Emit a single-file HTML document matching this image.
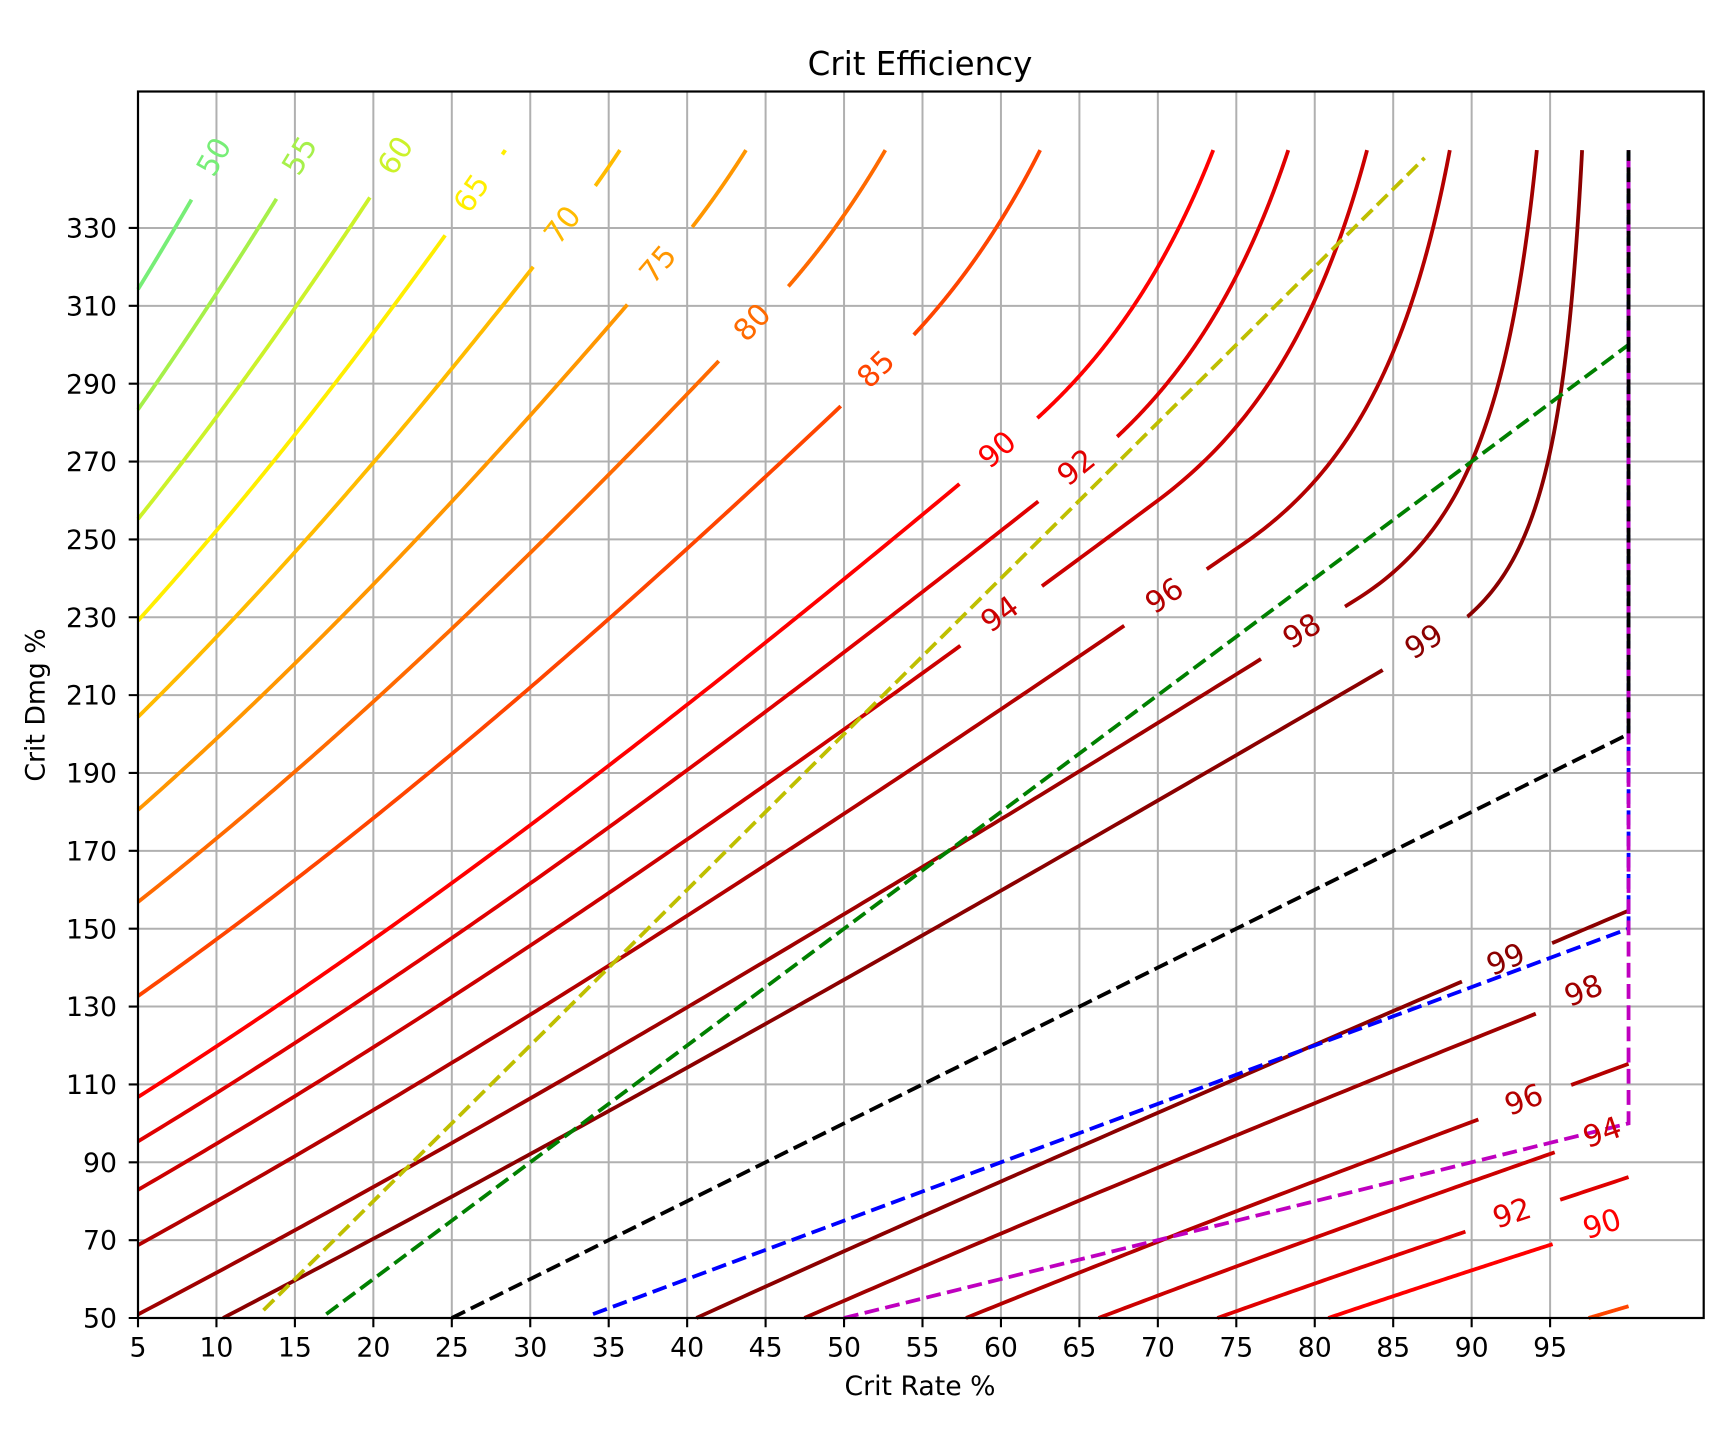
<!DOCTYPE html>
<html><head><meta charset="utf-8"><style>
html,body{margin:0;padding:0;background:#fff;overflow:hidden}
svg{display:block}
text{font-family:"DejaVu Sans","Liberation Sans",sans-serif}
</style></head><body>
<svg width="1734" height="1437" viewBox="0 0 1734 1437" xmlns="http://www.w3.org/2000/svg">
<rect width="1734" height="1437" fill="#fff"/>
<defs>
<mask id="lm" maskUnits="userSpaceOnUse" x="0" y="0" width="1734" height="1437">
<rect width="1734" height="1437" fill="#fff"/>
<g fill="#000">
<rect x="-48" y="-10" width="96" height="20" transform="translate(213.5,157) rotate(-60.4)"/>
<rect x="-49" y="-10" width="98" height="20" transform="translate(299.2,155.3) rotate(-58.7)"/>
<rect x="-49" y="-10" width="98" height="20" transform="translate(395,155.3) rotate(-57)"/>
<rect x="-49.5" y="-10" width="99" height="20" transform="translate(472.5,194) rotate(-55.2)"/>
<rect x="-51" y="-10" width="102" height="20" transform="translate(563.4,225.7) rotate(-51.9)"/>
<rect x="-50.5" y="-10" width="101" height="20" transform="translate(658.8,265) rotate(-49.5)"/>
<rect x="-51" y="-10" width="102" height="20" transform="translate(753,323.2) rotate(-46.4)"/>
<rect x="-51" y="-10" width="102" height="20" transform="translate(876.7,369.9) rotate(-44.4)"/>
<rect x="-51" y="-10" width="102" height="20" transform="translate(997.9,450.4) rotate(-40.9)"/>
<rect x="-51" y="-10" width="102" height="20" transform="translate(1077,468.2) rotate(-39.3)"/>
<rect x="-50.5" y="-10" width="101" height="20" transform="translate(1000.5,615) rotate(-36.1)"/>
<rect x="-50" y="-10" width="100" height="20" transform="translate(1165,596.7) rotate(-34.2)"/>
<rect x="-49.5" y="-10" width="99" height="20" transform="translate(1302.5,632) rotate(-31.7)"/>
<rect x="-50" y="-10" width="100" height="20" transform="translate(1424.5,642.5) rotate(-31.8)"/>
<rect x="-49" y="-10" width="98" height="20" transform="translate(1506.2,960.5) rotate(-23.2)"/>
<rect x="-52" y="-10" width="104" height="20" transform="translate(1583.5,993) rotate(-21.9)"/>
<rect x="-49.5" y="-10" width="99" height="20" transform="translate(1524.2,1100.8) rotate(-20.6)"/>
<rect x="-45" y="-10" width="90" height="20" transform="translate(1597,1137) rotate(-19.3)"/>
<rect x="-50" y="-10" width="100" height="20" transform="translate(1512.3,1214.2) rotate(-18.4)"/>
<rect x="-45" y="-10" width="90" height="20" transform="translate(1595,1229) rotate(-17.8)"/>
</g>
</mask>
</defs>

<!-- grid -->
<g stroke="#b0b0b0" stroke-width="2" fill="none">
<path d="M216.45,91.5V1318M294.9,91.5V1318M373.35,91.5V1318M451.8,91.5V1318M530.25,91.5V1318M608.7,91.5V1318M687.15,91.5V1318M765.6,91.5V1318M844.05,91.5V1318M922.5,91.5V1318M1000.95,91.5V1318M1079.4,91.5V1318M1157.85,91.5V1318M1236.3,91.5V1318M1314.75,91.5V1318M1393.2,91.5V1318M1471.65,91.5V1318M1550.1,91.5V1318"/>
<path d="M138,1240.14H1703.7M138,1162.28H1703.7M138,1084.42H1703.7M138,1006.56H1703.7M138,928.7H1703.7M138,850.84H1703.7M138,772.98H1703.7M138,695.12H1703.7M138,617.26H1703.7M138,539.4H1703.7M138,461.54H1703.7M138,383.68H1703.7M138,305.82H1703.7M138,227.96H1703.7"/>
</g>

<!-- contours -->
<g mask="url(#lm)">
<g transform="matrix(15.69,0,0,-3.893,59.55,1512.65)" fill="none" stroke-width="3.8" stroke-linejoin="round">
<path id="c50" vector-effect="non-scaling-stroke" stroke="#77ee77" d="M5,314.26L6.25,322.54L7.5,331.01L8.75,339.64L10.22,350"/>
<path id="c55" vector-effect="non-scaling-stroke" stroke="#a6f04a" d="M5,283.36L7.5,297.99L10,313.18L12.5,328.92L15,345.19L15.72,350"/>
<path id="c60" vector-effect="non-scaling-stroke" stroke="#ccf22a" d="M5,255.23L8,270.72L12,292.42L15,309.45L18,327.09L21.76,350"/>
<path id="c65" vector-effect="non-scaling-stroke" stroke="#ffee00" d="M5,229.12L10,252.26L15,276.92L22,313.85L25,330.47L27.54,344.92L28.41,350"/>
<path id="c70" vector-effect="non-scaling-stroke" stroke="#ffbb00" d="M5,204.4L10,224.93L15,246.74L20,269.75L25,293.88L29,313.93L32.92,334.16L34.36,342L35.71,350"/>
<path id="c75" vector-effect="non-scaling-stroke" stroke="#ff9600" d="M5,180.51L10,198.8L15,218.13L25,259.72L32,290.92L38.76,322.47L40.28,330L42.11,340L43.75,350"/>
<path id="c80" vector-effect="non-scaling-stroke" stroke="#ff6a00" d="M5,156.86L15,190.35L22,215.73L30,246.53L40,287.33L45.23,309.55L47.5,320L49.41,330L51.11,340L52.63,350"/>
<path id="c85" vector-effect="non-scaling-stroke" stroke="#ff4500" d="M5,132.7L15,162.51L30,211.97L38,240.35L45,266.14L52.57,294.87L53.85,300L56.07,310L58,320L59.69,330L61.18,340L62.5,350"/>
<path id="c90" vector-effect="non-scaling-stroke" stroke="#ff0000" d="M5,106.77L10,119.77L20,147.27L30,176.61L40,207.55L50,239.81L61.27,277.46L63.33,285L66.67,300L68.46,310L70.69,325L72.5,340L73.53,350"/>
<path id="c92" vector-effect="non-scaling-stroke" stroke="#e00000" d="M5,95.37L10,107.79L20,133.91L30,161.64L40,190.74L50,221.01L60,252.23L65.36,269.28L67.03,275L69.51,285L72.41,300L73.97,310L75.89,325L77.44,340L78.31,350"/>
<path id="c94" vector-effect="non-scaling-stroke" stroke="#cc0000" d="M5,82.93L10,94.77L20,119.54L40,172.95L50,201.21L60,230.28L70,260L71.56,265L74.14,275L77.06,290L78.57,300L79.84,310L81.39,325L82.63,340L83.33,350"/>
<path id="c96" vector-effect="non-scaling-stroke" stroke="#b40000" d="M5,68.72L10,80L20,103.43L40,153.34L50,179.54L60,206.38L70,233.74L75.51,249L78.82,260L81.93,275L84.08,290L85.19,300L86.1,310L87.22,325L88.11,340L88.61,350"/>
<path id="c98" vector-effect="non-scaling-stroke" stroke="#a00000" d="M5,50.92L10,61.63L20,83.66L40,129.8L60,178.11L70,202.85L80,227.89L82.68,234.64L84.55,240L87.04,250L88.75,260L90.51,275L91.7,290L92.81,310L93.58,330L94.16,350"/>
<path id="c99" vector-effect="non-scaling-stroke" stroke="#8b0000" d="M10.42,50L20,70.36L30,92.12L40,114.32L50,136.89L60,159.78L70,182.93L80,206.28L87.75,224.49L89.69,230L90.95,235L91.9,240L93.27,250L94.19,260L95.13,275L95.76,290L96.34,310L96.74,330L97.04,350"/>
<path id="l99" vector-effect="non-scaling-stroke" stroke="#8b0000" d="M40.59,50L50,67.15L60,85.06L70,102.73L80,120.19L90,137.48L100,154.64"/>
<path id="l98" vector-effect="non-scaling-stroke" stroke="#a00000" d="M47.47,50L60,71.68L70,88.57L80,105.17L90,121.53L100,137.7"/>
<path id="l96" vector-effect="non-scaling-stroke" stroke="#b40000" d="M57.77,50L70,69.6L80,85.14L90,100.35L100,115.29"/>
<path id="l94" vector-effect="non-scaling-stroke" stroke="#cc0000" d="M66.22,50L75,63.23L85,77.88L92.5,88.61L100,99.15"/>
<path id="l92" vector-effect="non-scaling-stroke" stroke="#e00000" d="M73.79,50L85,65.84L92.5,76.12L100,86.19"/>
<path id="l90" vector-effect="non-scaling-stroke" stroke="#ff0000" d="M80.86,50L90,62.23L100,75.2"/>
<path id="l85" vector-effect="non-scaling-stroke" stroke="#ff4500" d="M97.45,50L100,53.02"/>
</g>
</g>

<!-- dashed lines -->
<g fill="none" stroke-width="3.8" stroke-dasharray="14.8 6.4">
<path stroke="#bfbf00" d="M263.52,1310.21L1424.58,157.89"/>
<path stroke="#008000" d="M326.28,1314.11L1628.55,344.75L1628.55,150.1"/>
<path stroke="#0000ff" d="M593.01,1314.11L1628.55,928.7L1628.55,150.1"/>
<path stroke="#bf00bf" d="M844.05,1318L1628.55,1123.35L1628.55,150.1"/>
<path stroke="#000000" d="M451.8,1318L1628.55,734.05L1628.55,150.1"/>
</g>

<!-- contour labels -->
<g font-size="30">
<text fill="#77ee77" x="213.5" y="156.5" dy="0.36em" text-anchor="middle" transform="rotate(-60.4 213.5 156.5)">50</text>
<text fill="#a6f04a" x="299.2" y="155.3" dy="0.36em" text-anchor="middle" transform="rotate(-58.7 299.2 155.3)">55</text>
<text fill="#ccf22a" x="395" y="155.3" dy="0.36em" text-anchor="middle" transform="rotate(-57 395 155.3)">60</text>
<text fill="#ffee00" x="472.5" y="194" dy="0.3em" text-anchor="middle" transform="rotate(-55.2 472.5 194)">65</text>
<text fill="#ffbb00" x="563.4" y="225.7" dy="0.3em" text-anchor="middle" transform="rotate(-51.9 563.4 225.7)">70</text>
<text fill="#ff9600" x="658.8" y="265" dy="0.3em" text-anchor="middle" transform="rotate(-49.5 658.8 265)">75</text>
<text fill="#ff6a00" x="753" y="323.2" dy="0.3em" text-anchor="middle" transform="rotate(-46.4 753 323.2)">80</text>
<text fill="#ff4500" x="876.7" y="369.9" dy="0.3em" text-anchor="middle" transform="rotate(-44.4 876.7 369.9)">85</text>
<text fill="#ff0000" x="997.9" y="450.4" dy="0.3em" text-anchor="middle" transform="rotate(-40.9 997.9 450.4)">90</text>
<text fill="#e00000" x="1077" y="468.2" dy="0.3em" text-anchor="middle" transform="rotate(-39.3 1077 468.2)">92</text>
<text fill="#cc0000" x="1000.5" y="615" dy="0.3em" text-anchor="middle" transform="rotate(-36.1 1000.5 615)">94</text>
<text fill="#b40000" x="1165" y="596.7" dy="0.3em" text-anchor="middle" transform="rotate(-34.2 1165 596.7)">96</text>
<text fill="#a00000" x="1302.5" y="632" dy="0.3em" text-anchor="middle" transform="rotate(-31.7 1302.5 632)">98</text>
<text fill="#8b0000" x="1424.5" y="642.5" dy="0.3em" text-anchor="middle" transform="rotate(-31.8 1424.5 642.5)">99</text>
<text fill="#8b0000" x="1506.2" y="960.5" dy="0.3em" text-anchor="middle" transform="rotate(-23.2 1506.2 960.5)">99</text>
<text fill="#a00000" x="1583.3" y="990" dy="0.36em" text-anchor="middle" transform="rotate(-21.9 1583.3 990)">98</text>
<text fill="#b40000" x="1524.2" y="1100.8" dy="0.3em" text-anchor="middle" transform="rotate(-20.6 1524.2 1100.8)">96</text>
<text fill="#cc0000" x="1601.9" y="1131.7" dy="0.36em" text-anchor="middle" transform="rotate(-19.3 1601.9 1131.7)">94</text>
<text fill="#e00000" x="1512.3" y="1214.2" dy="0.3em" text-anchor="middle" transform="rotate(-18.4 1512.3 1214.2)">92</text>
<text fill="#ff0000" x="1601.9" y="1223.3" dy="0.36em" text-anchor="middle" transform="rotate(-17.8 1601.9 1223.3)">90</text>
</g>

<!-- spines -->
<rect x="138" y="91.5" width="1565.7" height="1226.5" fill="none" stroke="#000" stroke-width="2.2"/>

<!-- ticks -->
<g stroke="#000" stroke-width="2.1">
<path d="M138,1318v9.3M216.45,1318v9.3M294.9,1318v9.3M373.35,1318v9.3M451.8,1318v9.3M530.25,1318v9.3M608.7,1318v9.3M687.15,1318v9.3M765.6,1318v9.3M844.05,1318v9.3M922.5,1318v9.3M1000.95,1318v9.3M1079.4,1318v9.3M1157.85,1318v9.3M1236.3,1318v9.3M1314.75,1318v9.3M1393.2,1318v9.3M1471.65,1318v9.3M1550.1,1318v9.3"/>
<path d="M138,1318h-9.3M138,1240.14h-9.3M138,1162.28h-9.3M138,1084.42h-9.3M138,1006.56h-9.3M138,928.7h-9.3M138,850.84h-9.3M138,772.98h-9.3M138,695.12h-9.3M138,617.26h-9.3M138,539.4h-9.3M138,461.54h-9.3M138,383.68h-9.3M138,305.82h-9.3M138,227.96h-9.3"/>
</g>

<!-- tick labels -->
<g font-size="26.7" fill="#000" text-anchor="middle">
<text x="138" y="1356.5">5</text>
<text x="216.45" y="1356.5">10</text>
<text x="294.9" y="1356.5">15</text>
<text x="373.35" y="1356.5">20</text>
<text x="451.8" y="1356.5">25</text>
<text x="530.25" y="1356.5">30</text>
<text x="608.7" y="1356.5">35</text>
<text x="687.15" y="1356.5">40</text>
<text x="765.6" y="1356.5">45</text>
<text x="844.05" y="1356.5">50</text>
<text x="922.5" y="1356.5">55</text>
<text x="1000.95" y="1356.5">60</text>
<text x="1079.4" y="1356.5">65</text>
<text x="1157.85" y="1356.5">70</text>
<text x="1236.3" y="1356.5">75</text>
<text x="1314.75" y="1356.5">80</text>
<text x="1393.2" y="1356.5">85</text>
<text x="1471.65" y="1356.5">90</text>
<text x="1550.1" y="1356.5">95</text>
</g>
<g font-size="26.7" fill="#000" text-anchor="end">
<text x="117" y="1327.6">50</text>
<text x="117" y="1249.7">70</text>
<text x="117" y="1171.9">90</text>
<text x="117" y="1094">110</text>
<text x="117" y="1016.2">130</text>
<text x="117" y="938.3">150</text>
<text x="117" y="860.4">170</text>
<text x="117" y="782.6">190</text>
<text x="117" y="704.7">210</text>
<text x="117" y="626.9">230</text>
<text x="117" y="549">250</text>
<text x="117" y="471.1">270</text>
<text x="117" y="393.3">290</text>
<text x="117" y="315.4">310</text>
<text x="117" y="237.6">330</text>
</g>

<!-- titles -->
<text x="920" y="75" font-size="32.5" text-anchor="middle" fill="#000">Crit Efficiency</text>
<text x="920" y="1395" font-size="26.7" text-anchor="middle" fill="#000">Crit Rate %</text>
<text transform="translate(44.5,705) rotate(-90)" font-size="26.7" text-anchor="middle" fill="#000">Crit Dmg %</text>
</svg>
<script>
(function(){
  function fmt(p){return (p[0]*100).toFixed(3)+","+(p[1]*100).toFixed(3);}
  function upper(E){
    var k=8*(1-E);
    function du(r){return (2*r*(2-E)+Math.sqrt(k*(2*r*r+E)))/E;}
    var r0=0.05;
    if(du(0.05)<0.5){var A=4*E,B=2*E-4,C=8.25*E-8;r0=(-B-Math.sqrt(B*B-4*A*C))/(2*A);}
    var rc=1-Math.sqrt(24*(1-E))/4,dc=4-2*rc,rEnd,capped=true;
    if(dc>3.5){capped=false;var lo=r0,hi=1;for(var i=0;i<60;i++){var m=(lo+hi)/2;if(du(m)<3.5)lo=m;else hi=m;}rEnd=(lo+hi)/2;}else rEnd=rc;
    var pts=[],N=200;
    for(var i=0;i<=N;i++){var r=r0+(rEnd-r0)*i/N;pts.push([r,du(r)]);}
    if(capped){for(var j=1;j<=N;j++){var d=dc+(3.5-dc)*j/N;pts.push([(1+E-d*E)/(2*E-d),d]);}}
    return pts;
  }
  function lower(E){
    var k=8*(1-E);
    var A=4*E,B=2*E-4,C=8.25*E-8;
    var r0=(-B+Math.sqrt(B*B-4*A*C))/(2*A);
    if(!(r0<1))return null;
    var pts=[],N=120;
    for(var i=0;i<=N;i++){var r=r0+(1-r0)*i/N;pts.push([r,(2*r*(2-E)-Math.sqrt(k*(2*r*r+E)))/E]);}
    return pts;
  }
  try{
    var U=[50,55,60,65,70,75,80,85,90,92,94,96,98,99];
    for(var i=0;i<U.length;i++){
      var el=document.getElementById('c'+U[i]);
      var p=upper(U[i]/100);
      if(el&&p&&p.length>2){el.setAttribute('d','M'+p.map(fmt).join('L'));}
    }
    var L=[85,90,92,94,96,98,99];
    for(var j=0;j<L.length;j++){
      var el2=document.getElementById('l'+L[j]);
      var q=lower(L[j]/100);
      if(el2&&q&&q.length>2){el2.setAttribute('d','M'+q.map(fmt).join('L'));}
    }
  }catch(e){}
})();
</script>
</body></html>
